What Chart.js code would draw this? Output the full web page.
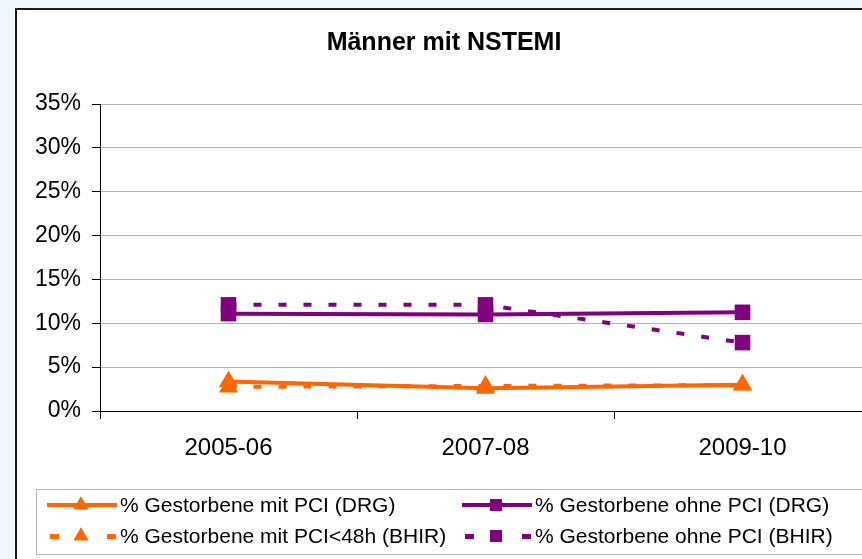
<!DOCTYPE html>
<html>
<head>
<meta charset="utf-8">
<script src="https://cdn.jsdelivr.net/npm/chart.js@4.4.0/dist/chart.umd.min.js"></script>
<style>
  html, body { margin: 0; padding: 0; background: #f0f7fd; overflow: hidden; }
  #box {
    position: absolute; left: 15px; top: 8px;
    width: 890px; height: 570px;
    border: 2px solid #1a1a1a; background: #fff;
  }
  #chart { position: absolute; left: 0; top: 0; }
</style>
</head>
<body>
<div id="box"><canvas id="chart" width="883" height="560"></canvas></div>
<script>
// DATA
const categories = ["2005-06", "2007-08", "2009-10"];
const pciDrg = [3.35, 2.6, 3.0];
const ohnePciDrg = [11.1, 11.0, 11.25];
const pci48Bhir = [2.75, 2.85, 2.95];
const ohnePciBhir = [12.1, 12.1, 7.8];
const seriesNames = [
  "% Gestorbene mit PCI (DRG)",
  "% Gestorbene ohne PCI (DRG)",
  "% Gestorbene mit PCI<48h (BHIR)",
  "% Gestorbene ohne PCI (BHIR)",
];
const yTicks = [0, 5, 10, 15, 20, 25, 30, 35];

const ORANGE = "#ff6600";
const PURPLE = "#800080";
const FONT = "'Liberation Sans', Arial, sans-serif";

function series(label, values, color, style, dashed) {
  return {
    label: label,
    data: values,
    borderColor: color,
    backgroundColor: color,
    borderWidth: 4,
    borderDash: dashed ? [8, 17] : [],
    pointStyle: style,
    pointRadius: style === "rect" ? 11 : 11,
    pointBorderWidth: 0,
    tension: 0,
    dashed: dashed,
  };
}

// legend drawn by hand: line sample + marker, two columns
const boxLegend = {
  id: "boxLegend",
  afterDraw(chart) {
    const ctx = chart.ctx;
    ctx.save();
    ctx.strokeStyle = "#b4b4b4";
    ctx.lineWidth = 1;
    ctx.strokeRect(19.5, 479.5, 900, 65);
    const slots = [
      { x: 30, y: 495 }, { x: 445, y: 495 },
      { x: 30, y: 526 }, { x: 445, y: 526 },
    ];
    chart.data.datasets.forEach((ds, i) => {
      const s = slots[i];
      ctx.strokeStyle = ds.borderColor;
      ctx.fillStyle = ds.borderColor;
      ctx.lineWidth = 4;
      if (ds.dashed) {
        ctx.fillRect(s.x + 3, s.y - 2, 9, 5);
        ctx.fillRect(s.x + 60, s.y - 2, 9, 5);
      } else {
        ctx.beginPath();
        ctx.moveTo(s.x, s.y);
        ctx.lineTo(s.x + 70, s.y);
        ctx.stroke();
      }
      Chart.helpers.drawPoint(ctx, {
        pointStyle: ds.pointStyle, radius: 8.5,
        rotation: 0, borderWidth: 0,
      }, s.x + 34, s.y);
      ctx.fill();
      ctx.fillStyle = "#000";
      ctx.font = "21px " + FONT;
      ctx.textBaseline = "middle";
      ctx.fillText(ds.label, s.x + 73, s.y + 1);
    });
    ctx.restore();
  },
};

const config = {
  type: "line",
  data: {
    labels: categories,
    datasets: [
      series(seriesNames[0], pciDrg, ORANGE, "triangle", false),
      series(seriesNames[1], ohnePciDrg, PURPLE, "rect", false),
      series(seriesNames[2], pci48Bhir, ORANGE, "triangle", true),
      series(seriesNames[3], ohnePciBhir, PURPLE, "rect", true),
    ],
  },
  options: {
    responsive: false,
    animation: false,
    layout: { padding: { left: 0, right: 29, bottom: 100 } },
    scales: {
      x: {
        offset: true,
        afterFit: (s) => { s.height = 59; },
        grid: { offset: true, drawOnChartArea: false, tickLength: 8, tickColor: "#000" },
        border: { color: "#000", width: 1 },
        ticks: { color: "#000", font: { family: FONT, size: 24 }, padding: 15 },
      },
      y: {
        min: 0,
        max: 35,
        afterFit: (s) => { s.width = 83; },
        afterBuildTicks: (s) => { s.ticks = yTicks.map((v) => ({ value: v })); },
        grid: { color: "#b0b0b0", tickColor: "#000", tickLength: 8 },
        border: { color: "#000", width: 1 },
        ticks: {
          color: "#000",
          font: { family: FONT, size: 23 },
          padding: 11,
          callback: (v) => v + "%",
        },
      },
    },
    plugins: {
      legend: { display: false },
      tooltip: { enabled: false },
      title: {
        display: true,
        text: "Männer mit NSTEMI",
        color: "#000",
        font: { family: FONT, size: 25, weight: "bold" },
        padding: { top: 18, bottom: 46 },
      },
    },
  },
  plugins: [boxLegend],
};

const chart = new Chart(document.getElementById("chart"), config);
</script>
</body>
</html>
